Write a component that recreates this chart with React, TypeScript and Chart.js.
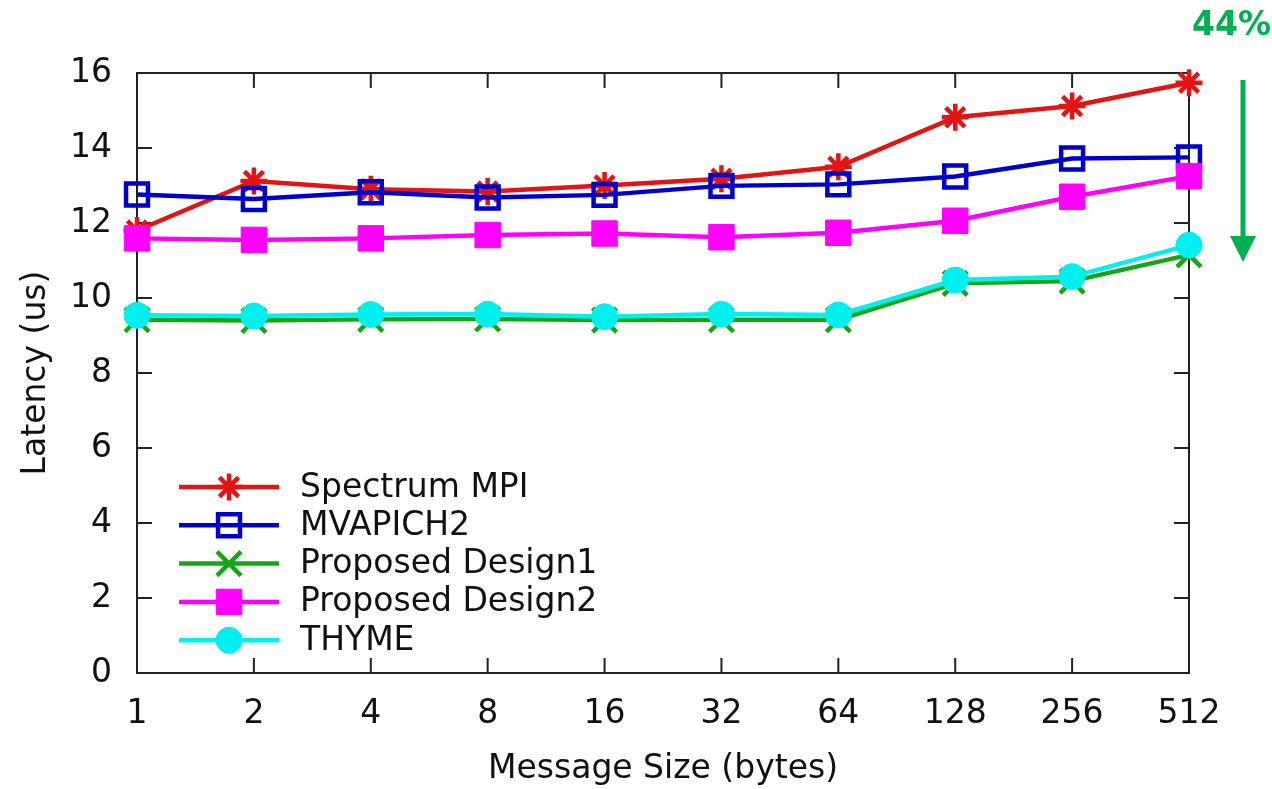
import { useEffect, useRef } from 'react';
import { Chart, registerables } from 'chart.js';

Chart.register(...registerables);

const messageSizes = ['1', '2', '4', '8', '16', '32', '64', '128', '256', '512'];
const spectrumMPI = [11.8, 13.12, 12.9, 12.84, 13.0, 13.18, 13.5, 14.82, 15.12, 15.74];
const mvapich2 = [12.76, 12.64, 12.82, 12.68, 12.75, 12.99, 13.03, 13.24, 13.72, 13.75];
const design1 = [9.42, 9.4, 9.43, 9.44, 9.41, 9.42, 9.42, 10.39, 10.45, 11.15];
const design2 = [11.59, 11.55, 11.59, 11.68, 11.72, 11.62, 11.74, 12.06, 12.7, 13.25];
const thyme = [9.54, 9.52, 9.56, 9.57, 9.5, 9.57, 9.55, 10.48, 10.57, 11.41];
const yTickValues = [0, 2, 4, 6, 8, 10, 12, 14, 16];

const seriesNames = ['Spectrum MPI', 'MVAPICH2', 'Proposed Design1', 'Proposed Design2', 'THYME'];
const seriesColors = ['#e41414', '#0000cc', '#16a516', '#ff00ff', '#00f0f0'];
const seriesValues = [spectrumMPI, mvapich2, design1, design2, thyme];
const annotationText = '44%';

const FONT = "'DejaVu Sans', 'Liberation Sans', sans-serif";
const FS = 33;

type Marker = { style: string; radius: number; fill: string; bw: number };
const markers: Marker[] = [
  { style: 'star', radius: 13.5, fill: 'transparent', bw: 4.5 },
  { style: 'rect', radius: 15.5, fill: 'transparent', bw: 4.5 },
  { style: 'crossRot', radius: 17, fill: 'transparent', bw: 4.5 },
  { style: 'rect', radius: 18, fill: '#ff00ff', bw: 1 },
  { style: 'circle', radius: 13, fill: '#00f0f0', bw: 1 },
];

function drawMarker(ctx: CanvasRenderingContext2D, m: Marker, color: string, x: number, y: number) {
  ctx.save();
  ctx.strokeStyle = color;
  ctx.fillStyle = m.fill;
  ctx.lineWidth = m.bw;
  ctx.beginPath();
  const r = m.radius;
  if (m.style === 'star') {
    const d = r * Math.SQRT1_2;
    ctx.moveTo(x - r, y); ctx.lineTo(x + r, y);
    ctx.moveTo(x, y - r); ctx.lineTo(x, y + r);
    ctx.moveTo(x - d, y - d); ctx.lineTo(x + d, y + d);
    ctx.moveTo(x - d, y + d); ctx.lineTo(x + d, y - d);
    ctx.stroke();
  } else if (m.style === 'crossRot') {
    const d = r * Math.SQRT1_2;
    ctx.moveTo(x - d, y - d); ctx.lineTo(x + d, y + d);
    ctx.moveTo(x - d, y + d); ctx.lineTo(x + d, y - d);
    ctx.stroke();
  } else if (m.style === 'rect') {
    const s = r * Math.SQRT1_2;
    ctx.rect(x - s, y - s, 2 * s, 2 * s);
    if (m.fill !== 'transparent') ctx.fill();
    ctx.stroke();
  } else {
    ctx.arc(x, y, r, 0, Math.PI * 2);
    ctx.fill();
    ctx.stroke();
  }
  ctx.restore();
}

const framePlugin = {
  id: 'frame',
  beforeDatasetsDraw(chart: any) {
    const { ctx, chartArea: a, scales } = chart;
    const tl = 15;
    ctx.save();
    ctx.strokeStyle = '#222';
    ctx.lineWidth = 2;
    ctx.strokeRect(a.left, a.top, a.right - a.left, a.bottom - a.top);
    ctx.beginPath();
    messageSizes.forEach((_, i) => {
      const px = scales.x.getPixelForValue(i);
      ctx.moveTo(px, a.bottom); ctx.lineTo(px, a.bottom - tl);
      ctx.moveTo(px, a.top); ctx.lineTo(px, a.top + tl);
    });
    yTickValues.forEach((v) => {
      const py = scales.y.getPixelForValue(v);
      ctx.moveTo(a.left, py); ctx.lineTo(a.left + tl, py);
      ctx.moveTo(a.right, py); ctx.lineTo(a.right - tl, py);
    });
    ctx.stroke();
    ctx.restore();
  },
  afterDatasetsDraw(chart: any) {
    const { ctx } = chart;
    const x0 = 179, x1 = 279, xm = 229, xt = 300;
    const y0 = 487, dy = 38.3;
    ctx.save();
    seriesNames.forEach((name, i) => {
      const y = y0 + i * dy;
      ctx.strokeStyle = seriesColors[i];
      ctx.lineWidth = 4.5;
      ctx.beginPath();
      ctx.moveTo(x0, y); ctx.lineTo(x1, y);
      ctx.stroke();
      drawMarker(ctx, markers[i], seriesColors[i], xm, y);
      ctx.fillStyle = '#111';
      ctx.font = `${FS}px ${FONT}`;
      ctx.textAlign = 'left';
      ctx.textBaseline = 'middle';
      ctx.fillText(name, xt, y + 1);
    });
    ctx.restore();
  },
  afterDraw(chart: any) {
    const { ctx } = chart;
    ctx.save();
    ctx.fillStyle = '#00b050';
    ctx.font = `bold 33px ${FONT}`;
    ctx.textAlign = 'right';
    ctx.textBaseline = 'middle';
    ctx.fillText(annotationText, 1271, 26);
    ctx.strokeStyle = '#00b050';
    ctx.lineWidth = 5;
    ctx.beginPath();
    ctx.moveTo(1243, 80);
    ctx.lineTo(1243, 240);
    ctx.stroke();
    ctx.beginPath();
    ctx.moveTo(1230, 236);
    ctx.lineTo(1256, 236);
    ctx.lineTo(1243, 262);
    ctx.closePath();
    ctx.fill();
    ctx.restore();
  },
};

export default function App() {
  const ref = useRef<HTMLCanvasElement | null>(null);
  useEffect(() => {
    document.body.style.margin = '0';
    const canvas = ref.current;
    if (!canvas) return;
    Chart.defaults.font.family = FONT;
    const chart = new Chart(canvas, {
      type: 'line',
      data: {
        labels: messageSizes,
        datasets: seriesNames.map((name, i) => ({
          label: name,
          data: seriesValues[i],
          borderColor: seriesColors[i],
          borderWidth: 4.5,
          backgroundColor: seriesColors[i],
          pointStyle: markers[i].style as any,
          pointRadius: markers[i].radius,
          pointBorderWidth: markers[i].bw,
          pointBorderColor: seriesColors[i],
          pointBackgroundColor: markers[i].fill,
          tension: 0,
          fill: false,
          clip: false as any,
          order: 5 - i,
        })),
      },
      options: {
        responsive: false,
        animation: false,
        events: [],
        devicePixelRatio: 1,
        layout: { padding: { top: 73, right: 83, left: 0, bottom: 0 } },
        plugins: {
          legend: { display: false },
          tooltip: { enabled: false },
          title: { display: false },
        },
        scales: {
          x: {
            type: 'category',
            offset: false,
            grid: { display: false, drawTicks: false },
            border: { display: false },
            ticks: {
              color: '#111',
              font: { size: FS },
              padding: 22,
              maxRotation: 0,
              autoSkip: false,
            },
            title: {
              display: true,
              text: 'Message Size (bytes)',
              color: '#111',
              font: { size: FS },
              padding: { top: 0, bottom: 0 },
            },
            afterFit: (s: any) => { s.height = 116; },
          },
          y: {
            min: 0,
            max: 16,
            grid: { display: false, drawTicks: false },
            border: { display: false },
            ticks: {
              stepSize: 2,
              color: '#111',
              font: { size: FS },
              padding: 25,
            },
            title: {
              display: true,
              text: 'Latency (us)',
              color: '#111',
              font: { size: FS },
              padding: { top: 17, bottom: 0 },
            },
            afterFit: (s: any) => { s.width = 137; },
          },
        },
      },
      plugins: [framePlugin],
    });
    return () => chart.destroy();
  }, []);
  return (
    <div style={{ position: 'absolute', left: 0, top: 0, width: 1272, height: 789, background: '#fff' }}>
      <canvas ref={ref} width={1272} height={789} style={{ width: 1272, height: 789, display: 'block' }} />
    </div>
  );
}
